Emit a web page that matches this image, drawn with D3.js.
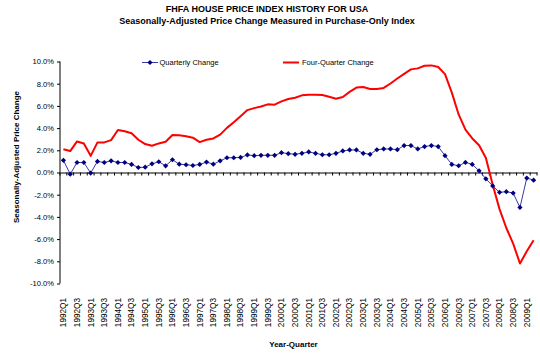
<!DOCTYPE html>
<html>
<head>
<meta charset="utf-8">
<script src="https://cdn.jsdelivr.net/npm/d3@7"></script>
<style>
  html, body { margin: 0; padding: 0; background: #ffffff; }
  svg { display: block; font-family: "Liberation Sans", Arial, sans-serif; }
</style>
</head>
<body>
<svg id="chart" width="540" height="357"></svg>
<script>
// ---- data ----
const quarters = [
  "1992Q1","1992Q2","1992Q3","1992Q4","1993Q1","1993Q2","1993Q3","1993Q4",
  "1994Q1","1994Q2","1994Q3","1994Q4","1995Q1","1995Q2","1995Q3","1995Q4",
  "1996Q1","1996Q2","1996Q3","1996Q4","1997Q1","1997Q2","1997Q3","1997Q4",
  "1998Q1","1998Q2","1998Q3","1998Q4","1999Q1","1999Q2","1999Q3","1999Q4",
  "2000Q1","2000Q2","2000Q3","2000Q4","2001Q1","2001Q2","2001Q3","2001Q4",
  "2002Q1","2002Q2","2002Q3","2002Q4","2003Q1","2003Q2","2003Q3","2003Q4",
  "2004Q1","2004Q2","2004Q3","2004Q4","2005Q1","2005Q2","2005Q3","2005Q4",
  "2006Q1","2006Q2","2006Q3","2006Q4","2007Q1","2007Q2","2007Q3","2007Q4",
  "2008Q1","2008Q2","2008Q3","2008Q4","2009Q1","2009Q2"
];
const quarterlyChange = [
  1.10,-0.15,0.90,0.90,-0.05,1.00,0.90,1.05,
  0.90,0.90,0.73,0.45,0.48,0.78,0.97,0.60,
  1.15,0.75,0.70,0.63,0.73,0.94,0.75,1.05,
  1.33,1.33,1.36,1.58,1.52,1.55,1.55,1.55,
  1.79,1.70,1.64,1.73,1.85,1.73,1.60,1.60,
  1.73,1.94,2.03,2.03,1.73,1.64,2.05,2.12,
  2.12,2.06,2.43,2.43,2.12,2.34,2.43,2.34,
  1.52,0.73,0.61,0.91,0.73,0.15,-0.57,-1.21,
  -1.79,-1.73,-1.85,-3.15,-0.50,-0.69
];
const fourQuarterChange = [
  2.10,1.93,2.80,2.62,1.50,2.71,2.71,2.92,
  3.83,3.71,3.53,2.95,2.56,2.41,2.62,2.77,
  3.38,3.36,3.26,3.14,2.74,2.95,3.07,3.41,
  4.02,4.53,5.07,5.62,5.80,5.95,6.14,6.11,
  6.41,6.62,6.74,6.95,7.00,7.00,6.98,6.83,
  6.65,6.80,7.26,7.65,7.71,7.53,7.53,7.62,
  8.02,8.47,8.89,9.29,9.38,9.62,9.65,9.50,
  8.86,7.20,5.23,3.86,3.07,2.45,1.30,-1.10,
  -3.30,-5.00,-6.40,-8.20,-7.10,-6.10
];
const yTicks = [-10,-8,-6,-4,-2,0,2,4,6,8,10];
const xTickLabels = quarters.filter((q, i) => i % 2 === 0);
const seriesNames = ["Quarterly Change", "Four-Quarter Change"];

// ---- chart ----
const svg = d3.select("#chart");
const blueLine = "#3a3aa8", blueMark = "#000080", red = "#ff0000";

const x = d3.scaleBand().domain(quarters).range([60, 537]).padding(0);
const y = d3.scaleLinear().domain([-10, 10]).range([283.5, 61.5]);
const cx = q => x(q) + x.bandwidth() / 2;

// titles
svg.append("text").attr("x", 267).attr("y", 11.5).attr("text-anchor", "middle")
  .attr("font-size", 9).attr("font-weight", "bold").attr("fill", "#000")
  .text("FHFA HOUSE PRICE INDEX HISTORY FOR USA");
svg.append("text").attr("x", 267).attr("y", 24).attr("text-anchor", "middle")
  .attr("font-size", 9).attr("font-weight", "bold").attr("fill", "#000")
  .text("Seasonally-Adjusted Price Change Measured in Purchase-Only Index");

// y axis
const yAxis = svg.append("g").attr("transform", "translate(60,0)")
  .call(d3.axisLeft(y).tickValues(yTicks).tickSize(3).tickPadding(3)
    .tickFormat(d => d.toFixed(1) + "%"));
yAxis.select(".domain").attr("stroke", "#000").attr("d", `M0,${y(10)}V${y(-10)}`);
yAxis.selectAll(".tick line").attr("stroke", "#000");
yAxis.selectAll(".tick text").attr("font-size", 7.6).attr("fill", "#000")
  .attr("font-family", "Liberation Sans, Arial, sans-serif");

// x axis (at zero line) with ticks between categories
const xAxis = svg.append("g").attr("transform", `translate(0,${y(0)})`)
  .call(d3.axisBottom(x).tickValues([]).tickSizeOuter(0));
xAxis.select(".domain").attr("stroke", "#000");
xAxis.selectAll("line.bnd").data(quarters.concat(["__end"])).enter().append("line")
  .attr("class", "bnd")
  .attr("x1", (d, i) => i < quarters.length ? x(d) : x.range()[1])
  .attr("x2", (d, i) => i < quarters.length ? x(d) : x.range()[1])
  .attr("y1", 0).attr("y2", 3).attr("stroke", "#000").attr("stroke-width", 1);

// x labels (low position)
svg.append("g").selectAll("text").data(xTickLabels).enter().append("text")
  .attr("transform", d => `translate(${cx(d)},298) rotate(-90)`)
  .attr("text-anchor", "end").attr("dy", "0.35em")
  .attr("font-size", 8.2).attr("fill", "#000")
  .text(d => d);

// axis titles
svg.append("text").attr("transform", "translate(19,157) rotate(-90)")
  .attr("text-anchor", "middle").attr("font-size", 8).attr("font-weight", "bold")
  .text("Seasonally-Adjusted Price Change");
svg.append("text").attr("x", 293.5).attr("y", 347).attr("text-anchor", "middle")
  .attr("font-size", 8).attr("font-weight", "bold").text("Year-Quarter");

// lines
const line = d3.line().x(d => cx(d.q)).y(d => y(d.v));
const redData = quarters.map((q, i) => ({q, v: fourQuarterChange[i]}));
const blueData = quarters.map((q, i) => ({q, v: quarterlyChange[i]}));

svg.append("path").datum(redData).attr("d", line)
  .attr("fill", "none").attr("stroke", red).attr("stroke-width", 2).attr("stroke-linejoin", "round");
svg.append("path").datum(blueData).attr("d", line)
  .attr("fill", "none").attr("stroke", blueLine).attr("stroke-width", 1);

const diamond = "M0,-2.6L2.6,0L0,2.6L-2.6,0Z";
svg.append("g").selectAll("path").data(blueData).enter().append("path")
  .attr("d", diamond).attr("transform", d => `translate(${cx(d.q)},${y(d.v)})`)
  .attr("fill", blueMark);

// legend
const lg = svg.append("g");
lg.append("line").attr("x1", 142).attr("x2", 158).attr("y1", 62.5).attr("y2", 62.5)
  .attr("stroke", blueLine).attr("stroke-width", 1);
lg.append("path").attr("d", diamond).attr("transform", "translate(150,62.5)").attr("fill", blueMark);
lg.append("text").attr("x", 159.5).attr("y", 65.2).attr("font-size", 7.5).text(seriesNames[0]);
lg.append("line").attr("x1", 283).attr("x2", 299).attr("y1", 62.5).attr("y2", 62.5)
  .attr("stroke", red).attr("stroke-width", 2);
lg.append("text").attr("x", 302).attr("y", 65.2).attr("font-size", 7.5).text(seriesNames[1]);
</script>
</body>
</html>
